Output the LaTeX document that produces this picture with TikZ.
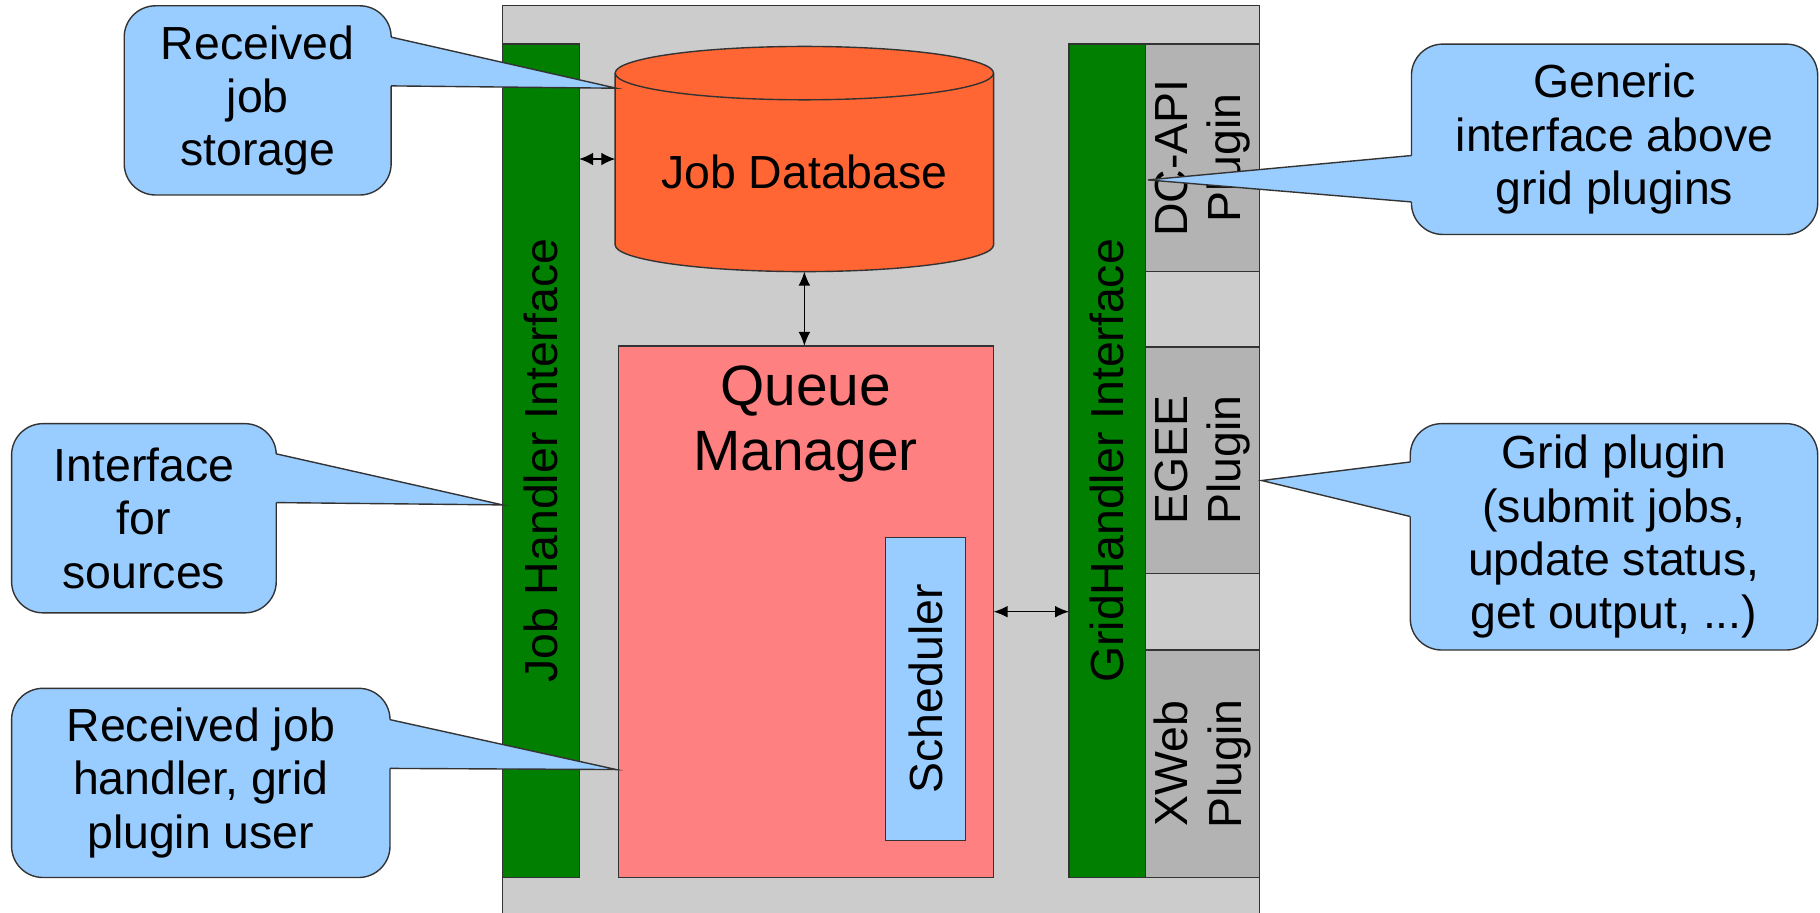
\documentclass[tikz,border=0pt]{standalone}
\usepackage{fontspec}
\setmainfont{Liberation Sans}
\usetikzlibrary{arrows.meta}
\definecolor{panelgray}{HTML}{CCCCCC}
\definecolor{ifgreen}{HTML}{007F00}
\definecolor{plugingray}{HTML}{B3B3B3}
\definecolor{dborange}{HTML}{FF6633}
\definecolor{qmpink}{HTML}{FF8080}
\definecolor{noteblue}{HTML}{99CCFF}
\definecolor{edgegray}{HTML}{333333}

\begin{document}
\begin{tikzpicture}[x=1pt,y=1pt,
  box/.style={draw=edgegray, line width=1.2pt, inner sep=0pt, outer sep=0pt},
  txt/.style={font=\fontsize{40}{46}\selectfont, align=center, text=black},
  bigtxt/.style={font=\fontsize{49}{56}\selectfont, align=center, text=black},
  note/.style={draw=edgegray, fill=noteblue, line width=1.2pt, rounded corners=27pt,
               inner sep=0pt, outer sep=0pt, txt},
  wedge/.style={fill=noteblue},
  wedgeedge/.style={draw=edgegray, line width=1.2pt},
  arr/.style={<->, >={Latex[length=12pt,width=10pt]}, line width=1.1pt, black},
  smallarr/.style={<->, >={Latex[length=12pt,width=11pt]}, line width=1.1pt, black}
]
\useasboundingbox (0,0) rectangle (1568,-786);

% main panel (open at the bottom)
\node[fill=panelgray, minimum width=652, minimum height=800, anchor=north west,
      inner sep=0pt, outer sep=0pt] (panel) at (433,-5) {};
\draw[edgegray, line width=1.2pt] (panel.south west) -- (panel.north west)
      -- (panel.north east) -- (panel.south east);

% interface bars
\node[box, fill=ifgreen, minimum width=66, minimum height=718, anchor=north west] (jhi) at (433,-38) {};
\node[txt, rotate=90] (jhitext) at (jhi.center) {Job Handler Interface};
\node[box, fill=ifgreen, minimum width=66, minimum height=718, anchor=north west] (ghi) at (921,-38) {};
\node[txt, rotate=90] (ghitext) at (ghi.center) {GridHandler Interface};

% grid plugins
\node[box, fill=plugingray, minimum width=98, minimum height=196, anchor=north west] (dcapi) at (987,-38) {};
\node[txt, rotate=90] (dcapitext) at (dcapi.center) {DC-API\\Plugin};
\node[box, fill=plugingray, minimum width=98, minimum height=195, anchor=north west] (egee) at (987,-299) {};
\node[txt, rotate=90] (egeetext) at (egee.center) {EGEE\\Plugin};
\node[box, fill=plugingray, minimum width=98, minimum height=196, anchor=north west] (xweb) at (987,-560) {};
\node[txt, rotate=90] (xwebtext) at (xweb.center) {XWeb\\Plugin};

% job database cylinder
\node[minimum width=326, minimum height=194, inner sep=0pt, outer sep=0pt] (db) at (693,-137) {};
\filldraw[fill=dborange, draw=edgegray, line width=1.2pt]
  (530,-63) -- (530,-211) arc[start angle=180, end angle=360, x radius=163, y radius=23]
  -- (856,-63) arc[start angle=0, end angle=180, x radius=163, y radius=23] -- cycle;
\draw[edgegray, line width=1.2pt] (530,-63) arc[start angle=180, end angle=360, x radius=163, y radius=23];
\node[txt] (dbtext) at (693,-148) {Job Database};

% queue manager and scheduler
\node[box, fill=qmpink, minimum width=323, minimum height=458, anchor=north west] (qm) at (533,-298) {};
\node[bigtxt] (qmtext) at (694,-365) {Queue\\Manager};
\node[box, fill=noteblue, minimum width=69, minimum height=261, anchor=north west] (sched) at (763,-463) {};
\node[txt, rotate=90] (schedtext) at (sched.center) {Scheduler};

% connectors
\draw[smallarr] (jhi.east |- db.west) -- (db.west);
\draw[arr] (db.south) -- (db.south |- qm.north);
\draw[arr] (qm.east) -- (qm.east -| ghi.west);

% callouts
\node[note, minimum width=230, minimum height=163] (n1) at (222,-86.5) {Received\\job\\storage};
\coordinate (t1) at (531,-76);
\fill[wedge] ([xshift=-2pt,yshift=-27pt]n1.north east) -- ([yshift=-27pt]n1.north east) -- (t1)
  -- ([yshift=-69pt]n1.north east) -- ([xshift=-2pt,yshift=-69pt]n1.north east) -- cycle;
\draw[wedgeedge] ([yshift=-27pt]n1.north east) -- (t1) -- ([yshift=-69pt]n1.north east);

\node[note, minimum width=228, minimum height=163] (n2) at (124,-446.5) {Interface\\for\\sources};
\coordinate (t2) at (433,-435);
\fill[wedge] ([xshift=-2pt,yshift=-26pt]n2.north east) -- ([yshift=-26pt]n2.north east) -- (t2)
  -- ([yshift=-68pt]n2.north east) -- ([xshift=-2pt,yshift=-68pt]n2.north east) -- cycle;
\draw[wedgeedge] ([yshift=-26pt]n2.north east) -- (t2) -- ([yshift=-68pt]n2.north east);

\node[note, minimum width=326, minimum height=163] (n3) at (173,-674.5) {Received job\\handler, grid\\plugin user};
\coordinate (t3) at (531,-663);
\fill[wedge] ([xshift=-2pt,yshift=-27pt]n3.north east) -- ([yshift=-27pt]n3.north east) -- (t3)
  -- ([yshift=-69pt]n3.north east) -- ([xshift=-2pt,yshift=-69pt]n3.north east) -- cycle;
\draw[wedgeedge] ([yshift=-27pt]n3.north east) -- (t3) -- ([yshift=-69pt]n3.north east);

\node[note, minimum width=350, minimum height=164] (n4) at (1391,-120) {Generic\\interface above\\grid plugins};
\coordinate (t4) at (989,-155);
\fill[wedge] ([xshift=2pt,yshift=-96pt]n4.north west) -- ([yshift=-96pt]n4.north west) -- (t4)
  -- ([yshift=-136pt]n4.north west) -- ([xshift=2pt,yshift=-136pt]n4.north west) -- cycle;
\draw[wedgeedge] ([yshift=-96pt]n4.north west) -- (t4) -- ([yshift=-136pt]n4.north west);

\node[note, minimum width=351, minimum height=195] (n5) at (1390.5,-462.5) {Grid plugin\\(submit jobs,\\update status,\\get output, ...)};
\coordinate (t5) at (1087,-414);
\fill[wedge] ([xshift=2pt,yshift=-33pt]n5.north west) -- ([yshift=-33pt]n5.north west) -- (t5)
  -- ([yshift=-80pt]n5.north west) -- ([xshift=2pt,yshift=-80pt]n5.north west) -- cycle;
\draw[wedgeedge] ([yshift=-33pt]n5.north west) -- (t5) -- ([yshift=-80pt]n5.north west);
\end{tikzpicture}
\end{document}
